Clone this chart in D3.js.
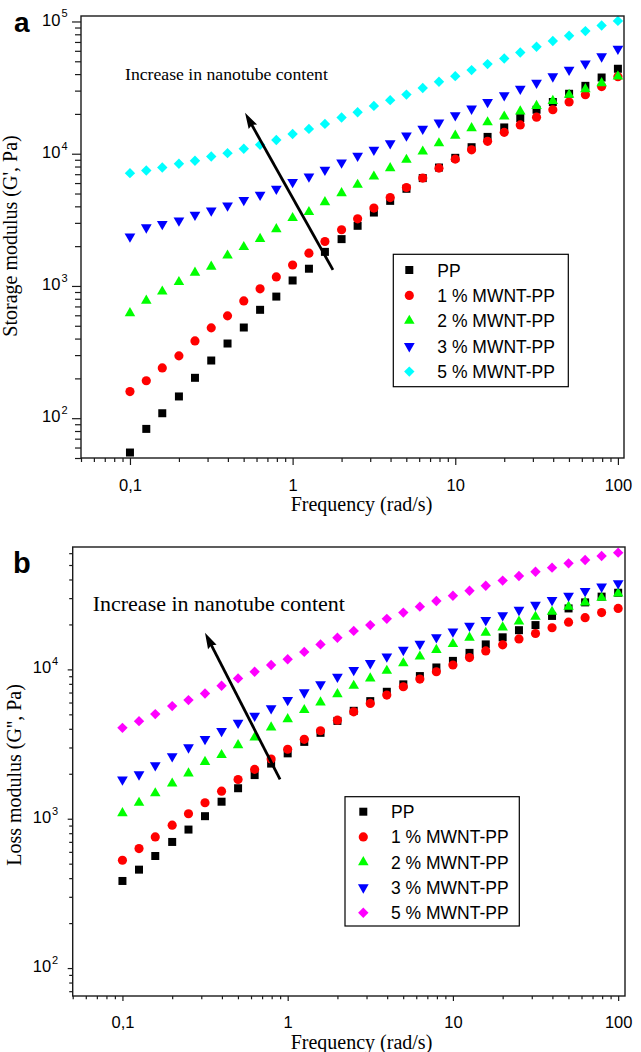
<!DOCTYPE html>
<html><head><meta charset="utf-8">
<script src="https://cdn.jsdelivr.net/npm/d3@7"></script>
<style>body{margin:0;background:#fff}svg{display:block}</style>
</head><body><svg id="c" width="641" height="1052"></svg>
<script>
// ---------------- data ----------------
const freq = [0.1,0.126,0.158,0.2,0.251,0.316,0.398,0.501,0.631,0.794,1,1.26,1.58,2,2.51,3.16,3.98,5.01,6.31,7.94,10,12.6,15.8,20,25.1,31.6,39.8,50.1,63.1,79.4,100];
const seriesNames = ["PP","1 % MWNT-PP","2 % MWNT-PP","3 % MWNT-PP","5 % MWNT-PP"];

const storagePP = [55,83,109,146,202,273,367,485,660,831,1100,1350,1810,2260,2850,3590,4400,5430,6540,7860,9310,11200,13400,15800,18600,21500,24600,28400,32600,37700,43900];
const storage1  = [159,192,240,296,384,482,594,771,951,1170,1440,1770,2170,2660,3220,3880,4660,5550,6540,7780,9100,10700,12400,14500,16500,18900,21500,24600,27900,32200,38200];
const storage2  = [623,775,907,1070,1260,1400,1700,1970,2270,2690,3260,3620,4300,5030,5820,6720,7780,8990,10400,12000,13700,15600,17300,19100,20900,23000,25100,27900,30800,34200,38400];
const storage3  = [2360,2770,2940,3120,3450,3720,4060,4460,4890,5430,6100,6720,7550,8580,9640,10700,12000,13700,15400,17200,19500,21900,24600,27600,31000,34400,38400,43100,48100,54400,62200];
const storage5  = [7130,7460,7860,8390,8840,9520,10100,10900,11700,12700,14100,15400,16800,18800,20600,23000,25400,28000,31400,35000,38600,42900,47600,52500,58300,64400,71100,78000,84600,93300,101000];

const lossPP = [383,456,563,699,846,1040,1300,1600,1960,2340,2740,3270,3760,4520,5280,6130,7080,7940,9020,10300,11400,12900,14700,16400,18300,19800,22800,25600,28100,30700,32600];
const loss1  = [527,631,755,905,1080,1280,1530,1830,2140,2510,2920,3400,3880,4570,5200,5920,6730,7650,8610,9640,10700,12000,13300,14600,16000,17400,19000,20700,22200,24000,25600];
const loss2  = [1090,1280,1480,1720,2010,2400,2670,3110,3500,4090,4640,5340,6010,6830,7770,8700,9790,11000,12200,13500,14800,16300,17600,19100,20900,22500,24300,26300,28100,30200,32300];
const loss3  = [1830,1980,2280,2620,3000,3410,3860,4390,4890,5480,6230,7010,7940,8920,9890,11000,12200,13500,14800,16400,17900,19600,21400,23000,25000,27000,29100,31100,33500,35800,37700];
const loss5  = [4060,4500,5020,5680,6230,6900,7770,8700,9640,10700,11700,13100,14700,16300,18100,19800,21800,24000,26300,28700,31100,33600,36300,39300,42200,45100,48000,51300,54000,57500,60500];

const xMajorTicks = [0.1, 1, 10, 100];
const xTickLabels = ["0,1", "1", "10", "100"];
const yMajorTop = [100, 1000, 10000, 100000];
const yMajorBottom = [100, 1000, 10000];

// ---------------- styling ----------------
const SANS = "'Liberation Sans', Arial, sans-serif";
const SERIF = "'Liberation Serif', 'Times New Roman', serif";
const colorsTop = ["#000000","#ff0000","#00ff00","#0000ff","#00ffff"];
const colorsBot = ["#000000","#ff0000","#00ff00","#0000ff","#ff00ff"];
const markers = [
  {type: d3.symbolSquare, size: 64, rot: 0},
  {type: d3.symbolCircle, size: 66, rot: 0},
  {type: d3.symbolTriangle, size: 48, rot: 0},
  {type: d3.symbolTriangle, size: 50, rot: 180},
  {type: d3.symbolSquare, size: 54, rot: 45}
];

const svg = d3.select("#c");

function logTicks(lo, hi) {
  const t = [];
  for (let e = -3; e <= 6; e++) for (let m = 1; m <= 9; m++) {
    const v = +(m * Math.pow(10, e)).toPrecision(3);
    if (v >= lo * 0.9999 && v <= hi * 1.0001) t.push(v);
  }
  return t;
}
const isMajor = v => Math.abs(Math.log10(v) - Math.round(Math.log10(v))) < 1e-6;

function panel(cfg) {
  const g = svg.append("g");
  const x = d3.scaleLog().domain(cfg.xDomain).range([cfg.left, cfg.right]);
  const y = d3.scaleLog().domain(cfg.yDomain).range([cfg.bottom, cfg.top]);

  // points
  cfg.series.forEach((vals, si) => {
    const m = markers[si];
    const sym = d3.symbol().type(m.type).size(m.size);
    g.append("g").selectAll("path").data(freq.map((f, i) => ({f, v: vals[i]})))
      .join("path")
      .attr("d", sym)
      .attr("transform", d => `translate(${x(d.f)},${y(d.v)}) rotate(${m.rot})`)
      .attr("fill", cfg.colors[si]);
  });

  // frame
  g.append("rect").attr("x", cfg.left).attr("y", cfg.top)
    .attr("width", cfg.right - cfg.left).attr("height", cfg.bottom - cfg.top)
    .attr("fill", "none").attr("stroke", "#1a1a1a").attr("stroke-width", 1.4);

  // x axis
  const xa = d3.axisBottom(x).tickValues(logTicks(cfg.xDomain[0], cfg.xDomain[1]))
    .tickSizeInner(cfg.xMajorLen).tickSizeOuter(0).tickPadding(cfg.xPad)
    .tickFormat(d => { const k = xMajorTicks.indexOf(d); return k >= 0 ? xTickLabels[k] : ""; });
  const xg = g.append("g").attr("transform", `translate(0,${cfg.bottom})`).call(xa);
  xg.select(".domain").remove();
  xg.selectAll(".tick line").attr("stroke", "#1a1a1a").attr("stroke-width", 1.2);
  xg.selectAll(".tick").filter(d => !isMajor(d)).select("line").attr("y2", cfg.xMinorLen);
  xg.selectAll(".tick text").attr("font-family", SANS).attr("font-size", 16.5).attr("fill", "#000");

  // y axis
  const ya = d3.axisLeft(y).tickValues(logTicks(cfg.yDomain[0], cfg.yDomain[1]))
    .tickSizeInner(cfg.yMajorLen).tickSizeOuter(0).tickPadding(cfg.yPad)
    .tickFormat(() => "");
  const yg = g.append("g").attr("transform", `translate(${cfg.left},0)`).call(ya);
  yg.select(".domain").remove();
  yg.selectAll(".tick line").attr("stroke", "#1a1a1a").attr("stroke-width", 1.2);
  yg.selectAll(".tick").filter(d => !isMajor(d)).select("line").attr("x2", -cfg.yMinorLen);
  yg.selectAll(".tick text").filter(d => cfg.yMajor.includes(d)).each(function(d) {
    const t = d3.select(this).attr("font-family", SANS).attr("fill", "#000").attr("dy", "0.36em");
    t.append("tspan").attr("font-size", 16.5).text("10");
    t.append("tspan").attr("font-size", 11).attr("dy", "-0.75em").attr("dx", 1).text(String(Math.round(Math.log10(d))));
  });

  // axis titles
  g.append("text").attr("x", cfg.xTitle[0]).attr("y", cfg.xTitle[1])
    .attr("text-anchor", "middle").attr("font-family", SERIF).attr("font-size", 20)
    .text("Frequency (rad/s)");
  g.append("text").attr("transform", `translate(${cfg.yTitle[0]},${cfg.yTitle[1]}) rotate(-90)`)
    .attr("text-anchor", "middle").attr("font-family", SERIF).attr("font-size", 20)
    .text(cfg.yTitleText);

  // panel letter
  g.append("text").attr("x", cfg.letterPos[0]).attr("y", cfg.letterPos[1])
    .attr("font-family", SANS).attr("font-weight", "bold").attr("font-size", cfg.letterSize)
    .text(cfg.letter);

  // annotation text
  g.append("text").attr("x", cfg.annot[0]).attr("y", cfg.annot[1])
    .attr("font-family", SERIF).attr("font-size", cfg.annotSize)
    .text("Increase in nanotube content");

  // arrow (in data coordinates)
  const [tf, tv, hf, hv] = cfg.arrow;
  const x0 = x(tf), y0 = y(tv), x1 = x(hf), y1 = y(hv);
  const ang = Math.atan2(y1 - y0, x1 - x0);
  const L = 16, W = 4.8;
  const bx = x1 - L * Math.cos(ang), by = y1 - L * Math.sin(ang);
  g.append("line").attr("x1", x0).attr("y1", y0)
    .attr("x2", x1 - 8 * Math.cos(ang)).attr("y2", y1 - 8 * Math.sin(ang))
    .attr("stroke", "#000").attr("stroke-width", 2.8);
  g.append("path").attr("d", `M${x1},${y1}L${bx - W * Math.sin(ang)},${by + W * Math.cos(ang)}L${bx + 2 * Math.cos(ang)},${by + 2 * Math.sin(ang)}L${bx + W * Math.sin(ang)},${by - W * Math.cos(ang)}Z`)
    .attr("fill", "#000");

  // legend
  const lg = g.append("g");
  const [lx, ly, lw, lh] = cfg.legendBox;
  lg.append("rect").attr("x", lx).attr("y", ly).attr("width", lw).attr("height", lh)
    .attr("fill", "#fff").attr("stroke", "#000").attr("stroke-width", 1.2);
  seriesNames.forEach((name, i) => {
    const ry = cfg.legendRow0 + i * cfg.legendStep;
    const m = markers[i];
    lg.append("path").attr("d", d3.symbol().type(m.type).size(m.size)())
      .attr("transform", `translate(${cfg.legendMarkX},${ry}) rotate(${m.rot})`)
      .attr("fill", cfg.colors[i]);
    lg.append("text").attr("x", cfg.legendTextX).attr("y", ry + 6.5)
      .attr("font-family", SANS).attr("font-size", 17.5).text(name);
  });
}

panel({
  left: 81, right: 624, top: 16, bottom: 458,
  xDomain: [0.05, 109], yDomain: [50, 110000],
  series: [storagePP, storage1, storage2, storage3, storage5], colors: colorsTop,
  xMajorLen: 7, xMinorLen: 4, xPad: 14, yMajorLen: 9, yMinorLen: 6, yPad: 4.5,
  yMajor: yMajorTop,
  xTitle: [361.5, 511], yTitle: [17, 236], yTitleText: "Storage modulus (G', Pa)",
  letter: "a", letterPos: [14, 32], letterSize: 28,
  annot: [125, 80], annotSize: 17.7,
  arrow: [1.77, 1324, 0.51, 20390],
  legendBox: [393.3, 254.3, 175, 132.4], legendRow0: 270, legendStep: 25.4,
  legendMarkX: 409.3, legendTextX: 437.3
});

panel({
  left: 72.7, right: 625, top: 547, bottom: 996,
  xDomain: [0.05, 110], yDomain: [65, 66000],
  series: [lossPP, loss1, loss2, loss3, loss5], colors: colorsBot,
  xMajorLen: 5, xMinorLen: 3.3, xPad: 15, yMajorLen: 5, yMinorLen: 3.5, yPad: 9.5,
  yMajor: yMajorBottom,
  xTitle: [361.5, 1049], yTitle: [21, 775], yTitleText: "Loss modulus (G'', Pa)",
  letter: "b", letterPos: [13, 573], letterSize: 29,
  annot: [92.7, 611], annotSize: 22,
  arrow: [0.899, 1833, 0.316, 17590],
  legendBox: [345, 796.7, 174.3, 129.3], legendRow0: 811.7, legendStep: 25.25,
  legendMarkX: 363.3, legendTextX: 391
});
</script>
</body></html>
